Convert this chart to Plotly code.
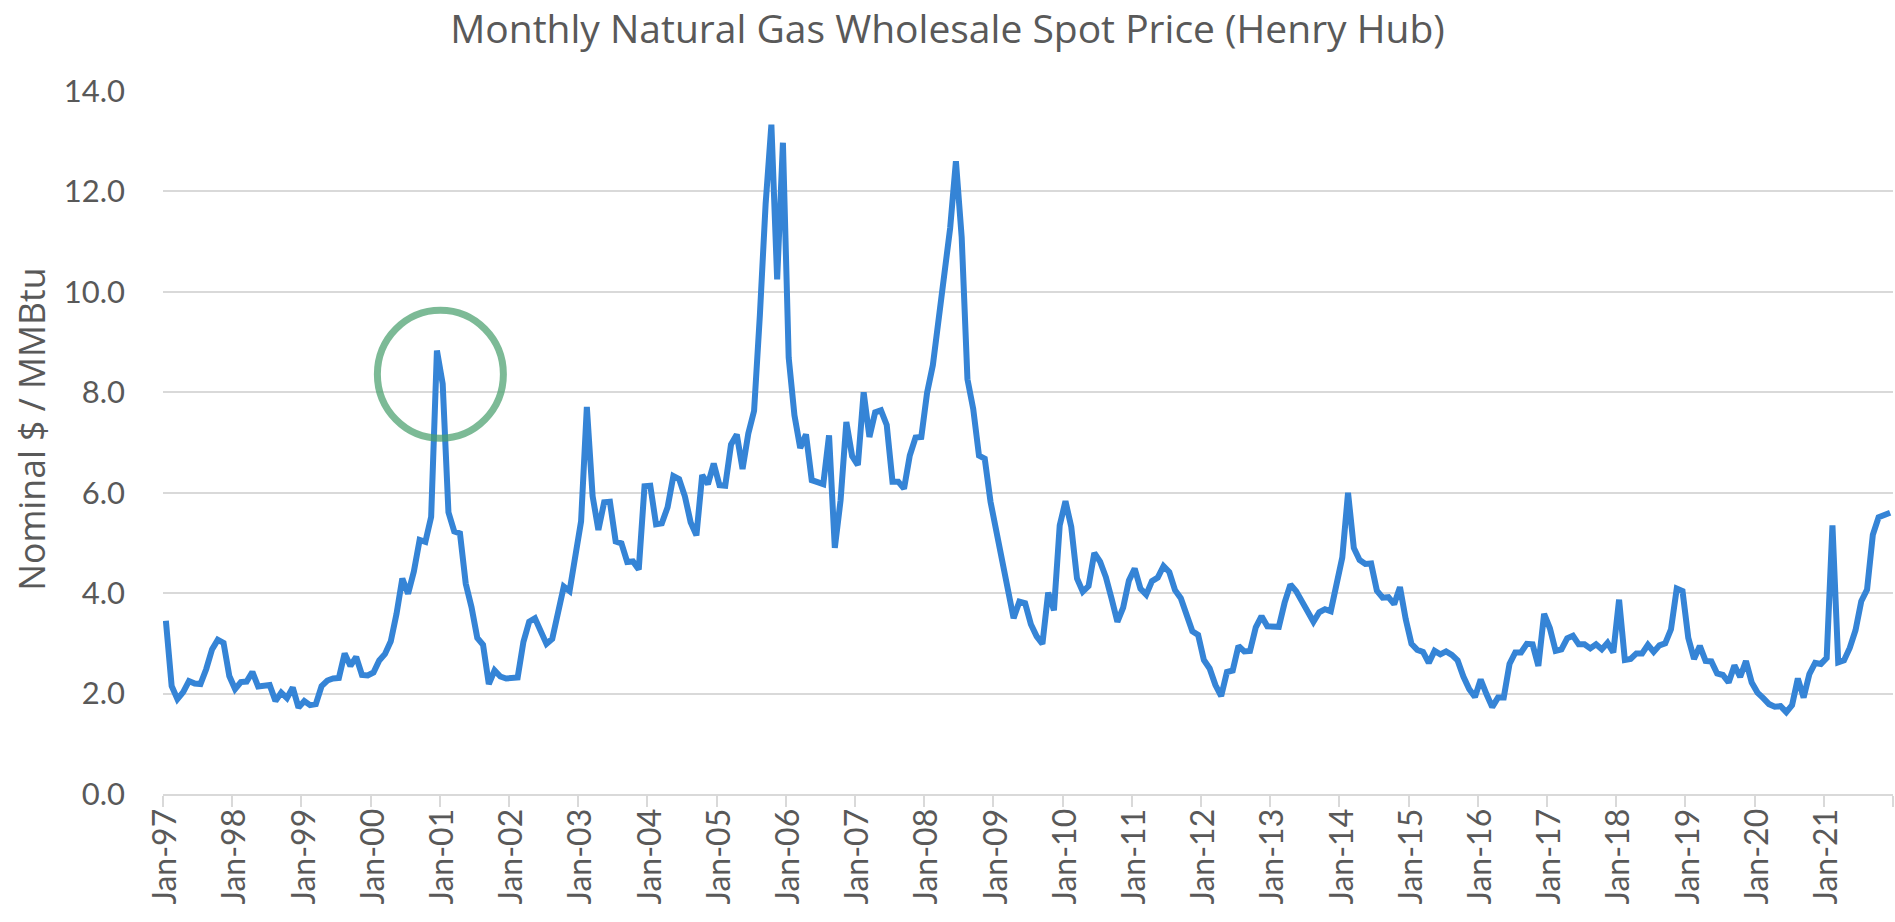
import plotly.graph_objects as go

years = list(range(1997, 2022))
month_names = ["Jan", "Feb", "Mar", "Apr", "May", "Jun", "Jul", "Aug", "Sep", "Oct", "Nov", "Dec"]

p1997 = [3.45, 2.15, 1.89, 2.03, 2.25, 2.20, 2.19, 2.49, 2.88, 3.07, 3.01, 2.35]
p1998 = [2.09, 2.23, 2.24, 2.43, 2.14, 2.17, 2.17, 1.85, 2.02, 1.91, 2.12, 1.72]
p1999 = [1.85, 1.77, 1.79, 2.15, 2.26, 2.30, 2.31, 2.80, 2.55, 2.73, 2.37, 2.36]
p2000 = [2.42, 2.66, 2.79, 3.04, 3.59, 4.29, 3.99, 4.43, 5.06, 5.02, 5.52, 8.83]
p2001 = [8.17, 5.61, 5.23, 5.19, 4.19, 3.72, 3.11, 2.97, 2.19, 2.46, 2.34, 2.30]
p2002 = [2.32, 2.32, 3.03, 3.43, 3.50, 3.26, 2.99, 3.09, 3.55, 4.13, 4.04, 4.74]
p2003 = [5.43, 7.71, 5.93, 5.26, 5.81, 5.82, 5.03, 4.99, 4.62, 4.63, 4.47, 6.13]
p2004 = [6.14, 5.37, 5.39, 5.71, 6.33, 6.27, 5.93, 5.41, 5.15, 6.35, 6.17, 6.58]
p2005 = [6.15, 6.14, 6.96, 7.16, 6.47, 7.18, 7.63, 9.53, 11.75, 13.33, 10.25, 12.97]
p2006 = [8.69, 7.54, 6.89, 7.16, 6.25, 6.21, 6.17, 7.14, 4.90, 5.85, 7.41, 6.73]
p2007 = [6.55, 8.00, 7.11, 7.60, 7.64, 7.35, 6.22, 6.22, 6.08, 6.74, 7.10, 7.11]
p2008 = [7.99, 8.54, 9.41, 10.18, 11.27, 12.60, 11.09, 8.26, 7.67, 6.74, 6.68, 5.82]
p2009 = [5.24, 4.52, 3.96, 3.50, 3.83, 3.80, 3.38, 3.14, 2.99, 4.01, 3.66, 5.35]
p2010 = [5.83, 5.32, 4.29, 4.03, 4.14, 4.80, 4.63, 4.32, 3.89, 3.43, 3.71, 4.25]
p2011 = [4.49, 4.09, 3.97, 4.24, 4.31, 4.54, 4.42, 4.06, 3.90, 3.57, 3.24, 3.17]
p2012 = [2.67, 2.50, 2.17, 1.95, 2.43, 2.46, 2.95, 2.84, 2.85, 3.32, 3.54, 3.34]
p2013 = [3.33, 3.33, 3.81, 4.17, 4.04, 3.83, 3.62, 3.43, 3.62, 3.68, 3.64, 4.24]
p2014 = [4.71, 6.00, 4.90, 4.66, 4.58, 4.59, 4.05, 3.91, 3.92, 3.78, 4.12, 3.48]
p2015 = [2.99, 2.87, 2.83, 2.61, 2.85, 2.78, 2.84, 2.77, 2.66, 2.34, 2.09, 1.93]
p2016 = [2.28, 1.99, 1.73, 1.92, 1.92, 2.59, 2.82, 2.82, 2.99, 2.98, 2.55, 3.59]
p2017 = [3.30, 2.85, 2.88, 3.10, 3.15, 2.98, 2.98, 2.90, 2.98, 2.88, 3.01, 2.82]
p2018 = [3.87, 2.67, 2.69, 2.80, 2.80, 2.97, 2.83, 2.96, 3.00, 3.28, 4.09, 4.04]
p2019 = [3.11, 2.69, 2.95, 2.65, 2.64, 2.40, 2.37, 2.22, 2.56, 2.33, 2.65, 2.22]
p2020 = [2.02, 1.91, 1.79, 1.74, 1.75, 1.63, 1.77, 2.30, 1.92, 2.39, 2.61, 2.59]
p2021 = [2.71, 5.35, 2.62, 2.66, 2.91, 3.26, 3.84, 4.07, 5.16, 5.51, 5.56, 5.60]

yearly = [p1997, p1998, p1999, p2000, p2001, p2002, p2003, p2004, p2005, p2006,
          p2007, p2008, p2009, p2010, p2011, p2012, p2013, p2014, p2015, p2016,
          p2017, p2018, p2019, p2020, p2021]

months = [f"{m}-{y % 100:02d}" for y in years for m in month_names]
prices = [v for yr in yearly for v in yr]

title_text = "Monthly Natural Gas Wholesale Spot Price (Henry Hub)"
y_title = "Nominal $ / MMBtu"
highlight_month = "Dec-00"
highlight_level = 8.36

GREY = "#595959"
GRID = "#d9d9d9"
FONT = "Lato, 'Open Sans', sans-serif"
WIDE = "'Open Sans', Lato, sans-serif"

fig = go.Figure()
fig.add_trace(go.Scatter(
    x=months, y=prices, mode="lines",
    line=dict(color="#3584d6", width=6),
    hoverinfo="x+y", showlegend=False,
))

fig.update_layout(
    width=1895, height=922,
    margin=dict(l=163, r=2, t=91, b=128),
    paper_bgcolor="white", plot_bgcolor="white",
    title=dict(text=title_text, x=0.5, xanchor="center", xref="container",
               y=0.968, yanchor="middle", yref="container",
               font=dict(family=WIDE, size=39, color=GREY)),
    font=dict(family=FONT, color=GREY),
    xaxis=dict(
        type="category", tickmode="linear", tick0=0, dtick=12,
        tickson="boundaries", ticks="outside", ticklen=11, tickwidth=2,
        tickcolor=GRID, showgrid=False, showline=True, linecolor=GRID,
        linewidth=2, tickangle=-90, range=[-0.5, len(months) - 0.5],
        tickfont=dict(family=FONT, size=32, color=GREY),
        automargin=False,
    ),
    yaxis=dict(
        range=[0, 14], dtick=2, tickformat=".1f", showgrid=True,
        gridcolor=GRID, gridwidth=2, zeroline=False, showline=False,
        ticks="", ticklabelstandoff=37,
        tickfont=dict(family=FONT, size=31, color=GREY),
        automargin=False,
    ),
    annotations=[dict(
        text=y_title, textangle=-90, xref="paper", yref="paper",
        x=-0.0765, y=0.519, xanchor="center", yanchor="middle",
        showarrow=False, font=dict(family=WIDE, size=35.6, color=GREY),
    )],
    shapes=[dict(
        type="circle", xref="x", yref="y",
        xsizemode="pixel", ysizemode="pixel",
        xanchor=months.index(highlight_month) + 0.6, yanchor=highlight_level,
        x0=-63, x1=63, y0=-64, y1=64,
        line=dict(color="rgba(74,159,109,0.72)", width=7),
        layer="above",
    )],
)

fig.write_html(
    "out.html",
    config={"displayModeBar": False},
    post_script="document.body.style.margin='0';document.body.style.overflow='hidden';",
)
